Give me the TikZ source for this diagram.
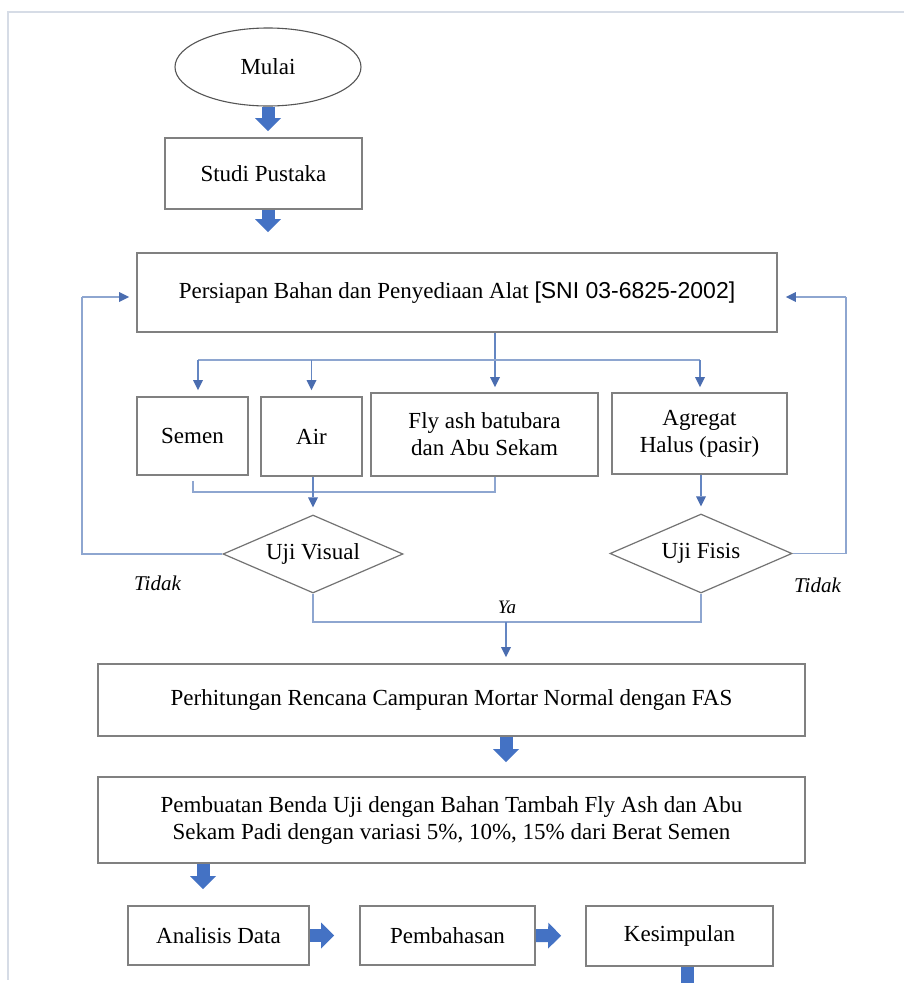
\documentclass[tikz,border=0pt]{standalone}
\usepackage{fontspec}
\setmainfont{Liberation Serif}
\newfontfamily\arialf{Liberation Sans}
\usetikzlibrary{shapes.geometric,arrows.meta}
\definecolor{boxgrey}{HTML}{808080}
\definecolor{ellgrey}{HTML}{555555}
\definecolor{lineblue}{HTML}{6486C2}
\definecolor{lightline}{HTML}{8EA6D0}
\definecolor{tipblue}{HTML}{4A6DB0}
\definecolor{blockblue}{HTML}{4472C4}
\definecolor{framec}{HTML}{D6DCE6}
\begin{document}
\begin{tikzpicture}[x=1pt,y=-1pt,
  every node/.style={font=\fontsize{23}{27}\selectfont, text=black},
  box/.style={draw=boxgrey, line width=1.7pt, rectangle, inner sep=0pt, align=center, fill=white},
  oval/.style={draw=ellgrey, line width=1.1pt, ellipse, inner sep=0pt, fill=white},
  decide/.style={draw=boxgrey!90!black, line width=1.2pt, diamond, aspect=2.3, inner sep=1pt, fill=white},
  lbl/.style={inner sep=0pt, font=\fontsize{21}{25}\selectfont\itshape},
  barrow/.style={draw=blockblue, line width=13pt, -{Triangle[length=13pt,width=26pt,line width=0pt]}},
  tline/.style={draw=lightline, line width=1.6pt},
  tarrow/.style={draw=lineblue, line width=1.8pt, -{Triangle[length=10pt,width=10pt,line width=0pt,color=tipblue]}}
]
\useasboundingbox (0,0) rectangle (904,983);
\clip (0,0) rectangle (904,983);
\fill[white] (0,0) rectangle (904,983);

% frame
\draw[framec, line width=1.5pt] (904,12) -- (8,12) -- (8,980);

% nodes
\node[oval, minimum width=186pt, minimum height=78pt] (mulai) at (268,67) {Mulai};
\node[box, minimum width=197pt, minimum height=71pt] (studi) at (263.5,173.5) {Studi Pustaka};
\node[box, minimum width=640pt, minimum height=79pt] (persiapan) at (457,292.5)
  {Persiapan Bahan dan Penyediaan Alat {\arialf[SNI 03-6825-2002]}};
\node[box, minimum width=111pt, minimum height=78pt] (semen) at (192.5,436) {Semen};
\node[box, minimum width=101pt, minimum height=79pt] (air) at (311.5,436.5) {Air};
\node[box, minimum width=227pt, minimum height=83pt] (fly) at (484.5,434.5) {Fly ash batubara\\dan Abu Sekam};
\node[box, minimum width=175pt, minimum height=81pt] (agregat) at (699.5,433.5) {Agregat\\Halus (pasir)};
\node[decide, minimum width=180pt, minimum height=78pt] (ujiv) at (313,554) {Uji Visual};
\node[decide, minimum width=182pt, minimum height=79pt] (ujif) at (701,553.5) {Uji Fisis};
\node[box, minimum width=707pt, minimum height=72pt] (perhitungan) at (451.5,700)
  {Perhitungan Rencana Campuran Mortar Normal dengan FAS};
\node[box, minimum width=707pt, minimum height=86pt] (pembuatan) at (451.5,820)
  {Pembuatan Benda Uji dengan Bahan Tambah Fly Ash dan Abu\\Sekam Padi dengan variasi 5\%, 10\%, 15\% dari Berat Semen};
\node[box, minimum width=181pt, minimum height=59pt] (analisis) at (218.5,935.5) {Analisis Data};
\node[box, minimum width=175pt, minimum height=59pt] (pembahasan) at (447.5,935.5) {Pembahasan};
\node[box, minimum width=187pt, minimum height=60pt] (kesimpulan) at (679.5,936) {Kesimpulan};

% labels
\node[lbl] (tidakl) at (157.5,583) {Tidak};
\node[lbl] (tidakr) at (817.5,585) {Tidak};
\node[lbl, font=\fontsize{19}{22}\selectfont\itshape] (yalbl) at (507,607) {Ya};

% helper coordinates
\coordinate (cx) at (495,360);
\coordinate (hl) at (198,360);
\coordinate (hr) at (700,360);
\coordinate (cl) at (193,492);
\coordinate (fl) at (82,297);
\coordinate (fr) at (846,297);
\coordinate (ya) at (506,622);
\coordinate (aa) at (203,0);
\coordinate (kend) at (687,999);

% block arrows
\draw[barrow, shorten >=6pt] (mulai.south) -- (mulai.south |- studi.north);
\draw[barrow, shorten >=20pt] (mulai.south |- studi.south) -- (mulai.south |- persiapan.north);
\draw[barrow, shorten >=14pt] (ya |- perhitungan.south) -- (ya |- pembuatan.north);
\draw[barrow, shorten >=16pt] (aa |- pembuatan.south) -- (aa |- analisis.north);
\draw[barrow, shorten >=25pt] (analisis.east) -- (pembahasan.west);
\draw[barrow, shorten >=24pt] (pembahasan.east) -- (kesimpulan.west);
\draw[barrow] (kend |- kesimpulan.south) -- (kend);

% distribution
\draw[tarrow, shorten >=5pt] (cx |- persiapan.south) -- (cx |- fly.north);
\draw[tline] (hl) -- (hr);
\draw[tarrow, shorten >=6pt] (hl) -- (hl |- semen.north);
\draw[tarrow, shorten >=6pt] (air.north |- hl) -- (air.north);
\draw[tarrow, shorten >=5pt] (hr) -- (hr |- agregat.north);

% collector to Uji Visual
\draw[tline] (cl |- semen.south) ++(0,5) -- (cl) -- (cl -| cx) -- (cx |- fly.south);
\draw[tarrow, shorten >=7pt] (ujiv.north |- air.south) -- (ujiv.north);
\draw[tarrow, shorten >=7pt] (agregat.south -| ujif.north) -- (ujif.north);

% feedback loops
\draw[tline] (ujiv.west) -- (ujiv.west -| fl) -- (fl);
\draw[tarrow, draw=lightline, shorten >=7pt] (fl) -- (fl -| persiapan.west);
\draw[tline] (ujif.east) -- (ujif.east -| fr) -- (fr);
\draw[tarrow, draw=lightline, shorten >=8pt] (fr) -- (fr -| persiapan.east);

% merge (Ya)
\draw[tline] (ujiv.south) -- (ujiv.south |- ya) -- (ujif.south |- ya) -- (ujif.south);
\draw[tarrow, shorten >=6pt] (ya) -- (ya |- perhitungan.north);
\end{tikzpicture}
\end{document}
